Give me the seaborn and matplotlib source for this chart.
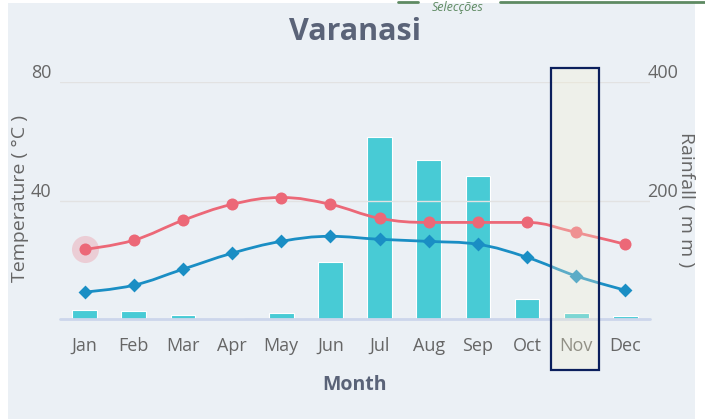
import matplotlib.pyplot as plt
import numpy as np
import pandas as pd
import seaborn as sns
from matplotlib.path import Path
from matplotlib.patches import PathPatch, Rectangle
from matplotlib.lines import Line2D

sns.set_style("white")
plt.rcParams["font.family"] = ["Open Sans", "DejaVu Sans"]

months = ["Jan", "Feb", "Mar", "Apr", "May", "Jun",
          "Jul", "Aug", "Sep", "Oct", "Nov", "Dec"]
temp_max = [23.5, 26.6, 33.3, 38.7, 41.0, 38.7, 34.0, 32.6, 32.6, 32.6, 29.2, 25.2]
temp_min = [9.1, 11.4, 16.8, 22.2, 26.2, 27.9, 26.9, 26.2, 25.2, 20.8, 14.5, 9.7]
rainfall = [15, 13, 7, 2, 10, 96, 308, 269, 242, 34, 10, 5]

df = pd.DataFrame({"Month": months, "max": temp_max, "min": temp_min, "rain": rainfall})
df["pos"] = np.arange(len(months))

BG = "#EBF0F5"
RED = "#EC6877"
BLUE = "#1A8EC4"
TEAL = "#48CBD5"
TXT = "#666666"
TITLE = "#5A6378"


def spline_path(xs, ys, smoothing=1.5):
    # highcharts style spline through the points
    n = len(xs)
    verts = [(xs[0], ys[0])]
    codes = [Path.MOVETO]
    ctrl = []
    for i in range(n):
        x, y = xs[i], ys[i]
        if i == 0 or i == n - 1:
            ctrl.append((x, y, x, y))
            continue
        lx, ly = xs[i - 1], ys[i - 1]
        nx, ny = xs[i + 1], ys[i + 1]
        d = smoothing + 1
        lcx, lcy = (smoothing * x + lx) / d, (smoothing * y + ly) / d
        rcx, rcy = (smoothing * x + nx) / d, (smoothing * y + ny) / d
        corr = (rcy - lcy) * (rcx - x) / (rcx - lcx) + y - rcy
        lcy += corr
        rcy += corr
        if lcy > ly and lcy > y:
            lcy = max(ly, y)
            rcy = 2 * y - lcy
        elif lcy < ly and lcy < y:
            lcy = min(ly, y)
            rcy = 2 * y - lcy
        if rcy > ny and rcy > y:
            rcy = max(ny, y)
            lcy = 2 * y - rcy
        elif rcy < ny and rcy < y:
            rcy = min(ny, y)
            lcy = 2 * y - rcy
        ctrl.append((lcx, lcy, rcx, rcy))
    for i in range(1, n):
        verts += [(ctrl[i - 1][2], ctrl[i - 1][3]), (ctrl[i][0], ctrl[i][1]), (xs[i], ys[i])]
        codes += [Path.CURVE4] * 3
    return Path(verts, codes)


fig = plt.figure(figsize=(7.05, 4.19), dpi=100)
fig.patch.set_facecolor("white")
fig.add_artist(Rectangle((8 / 705, 0), 687 / 705, 416 / 419, transform=fig.transFigure,
                         facecolor=BG, edgecolor="none", zorder=-10))

ax = fig.add_axes([60 / 705, 1 - 319 / 419, 590 / 705, 237 / 419])
ax2 = ax.twinx()
ax.set_zorder(ax2.get_zorder() + 1)
ax.patch.set_visible(False)
ax2.patch.set_visible(False)

# rainfall bars
sns.barplot(data=df, x="Month", y="rain", color=TEAL, width=0.5, saturation=1,
            edgecolor="white", linewidth=0.8, ax=ax2)
ax2.set_ylim(0, 400)
ax2.set_xlim(-0.5, 11.5)

# temperature lines
for col, color, marker, ms in [("max", RED, "o", 75), ("min", BLUE, "D", 50)]:
    ax.add_patch(PathPatch(spline_path(df["pos"].values, df[col].values),
                           facecolor="none", edgecolor=color, lw=2.0, zorder=3))
    sns.scatterplot(data=df, x="pos", y=col, color=color, marker=marker, s=ms,
                    edgecolor=color, linewidth=0, zorder=4, ax=ax, legend=False)
# hover halo on Jan
ax.scatter([df["pos"][0]], [df["max"][0]], s=380, color=RED, alpha=0.25, lw=0, zorder=2)

ax.set_xlim(-0.5, 11.5)
ax.set_ylim(0, 80)
ax.set_yticks([40, 80])
ax2.set_yticks([200, 400])
ax.set_xticks(df["pos"])
ax.set_xticklabels(months)
ax.tick_params(axis="x", length=0, pad=13, labelsize=13, labelcolor=TXT)
ax.tick_params(axis="y", length=0, pad=6, labelsize=13, labelcolor=TXT)
ax2.tick_params(axis="y", length=0, pad=-2, labelsize=13, labelcolor=TXT)
for lab in ax.get_yticklabels() + ax2.get_yticklabels():
    lab.set_va("bottom")
ax2.set_xlabel("")
ax2.set_ylabel("")
ax.set_ylabel("")
for a in (ax, ax2):
    for s in a.spines.values():
        s.set_visible(False)
ax.grid(axis="y", color="#E2E2E2", lw=1)
ax.axhline(0, color="#CCD6EB", lw=2, zorder=1, clip_on=False)

ax.set_xlabel("Month", fontsize=14, fontweight="bold", color=TITLE, labelpad=14)
fig.text(20 / 705, 1 - 198 / 419, "Temperature ( °C )", rotation=90, fontsize=14,
         color=TXT, ha="center", va="center")
fig.text(686 / 705, 1 - 200 / 419, "Rainfall ( m m )", rotation=-90, fontsize=14,
         color=TXT, ha="center", va="center")
fig.text(355 / 705, 1 - 32 / 419, "Varanasi", fontsize=22, fontweight="bold",
         color=TITLE, ha="center", va="center")

# selection highlight on Nov
fig.add_artist(Rectangle((551 / 705, 1 - 370 / 419), 48 / 705, 302 / 419,
                         transform=fig.transFigure, facecolor=(0.97, 0.95, 0.82, 0.3),
                         edgecolor="#0B1F5C", lw=1.6, zorder=5))

# selections tab at the top
fig.add_artist(Line2D([500 / 705, 1.0], [0.996, 0.996], transform=fig.transFigure,
                      color="#5E8A62", lw=2))
fig.add_artist(Line2D([398 / 705, 418 / 705], [0.996, 0.996], transform=fig.transFigure,
                      color="#5E8A62", lw=2))
fig.text(458 / 705, 1 - 7 / 419, "Selecções", fontsize=9, style="italic", color="#5E8A62",
         ha="center", va="center")

fig.savefig("out.png", dpi=100, facecolor="white")
